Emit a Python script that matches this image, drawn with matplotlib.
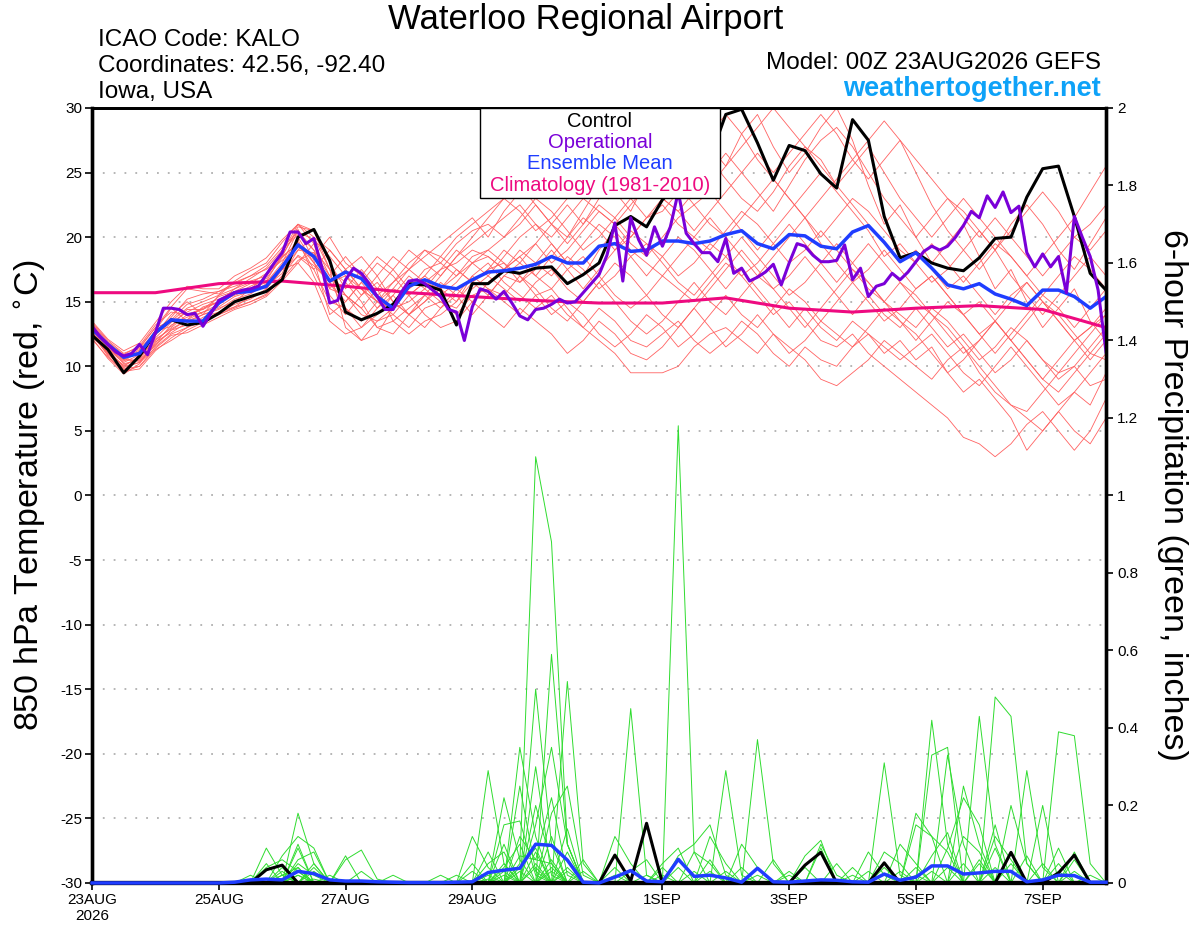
import numpy as np
import matplotlib
matplotlib.use("Agg")
import matplotlib.pyplot as plt
from matplotlib.patches import Rectangle

plt.rcParams['font.family'] = ['Liberation Sans', 'DejaVu Sans']
plt.rcParams['axes.unicode_minus'] = False

# time axis: hours after 00Z 23AUG2026
hours = np.arange(0, 385, 6)
hours_op = np.arange(0, 385, 3)

# control run 850 hPa temperature (C), 6-hourly
control_t = [12.4, 11.3, 9.5, 10.8, 12.6, 13.6, 13.2, 13.4, 14.1, 15.0, 15.4, 15.8, 16.7,
             20.0, 20.6, 18.2, 14.2, 13.6, 14.1, 14.8, 16.4, 16.3, 15.9, 13.2, 16.4, 16.4,
             17.4, 17.2, 17.6, 17.7, 16.4, 17.1, 18.0, 20.9, 21.6, 20.8, 22.9, 24.0, 25.0,
             26.1, 29.5, 29.9, 27.3, 24.4, 27.1, 26.7, 24.9, 23.8, 29.1, 27.5, 21.6, 18.4, 18.8,
             18.0, 17.6, 17.4, 18.4, 19.9, 20.0, 23.1, 25.3, 25.5, 21.6, 17.2, 15.9]

# ensemble mean
mean_t = [12.9, 11.7, 10.7, 11.0, 12.6, 13.6, 13.5, 13.5, 14.9, 15.7, 15.8, 16.2, 17.7,
          19.4, 18.5, 16.6, 17.3, 16.8, 15.4, 14.5, 16.2, 16.7, 16.2, 16.0, 16.7, 17.3,
          17.4, 17.6, 17.9, 18.5, 18.0, 18.0, 19.3, 19.5, 18.9, 19.0, 19.7, 19.7, 19.5,
          19.7, 20.2, 20.5, 19.5, 19.1, 20.2, 20.1, 19.3, 19.1, 20.4, 20.9, 19.6, 18.1, 18.8,
          17.6, 16.3, 16.0, 16.4, 15.6, 15.2, 14.7, 15.9, 15.9, 15.4, 14.5, 15.4]

# operational run, 3-hourly
oper_t = [13.1, 12.3, 11.7, 11.1, 10.8, 11.0, 11.7, 10.9,
          12.6, 14.5, 14.5, 14.4, 14.0, 14.1, 13.1, 14.1,
          15.1, 15.4, 15.7, 15.9, 16.0, 16.2, 17.1, 18.0,
          18.8, 20.4, 20.4, 19.5, 19.9, 17.7, 14.9, 15.1,
          16.7, 17.6, 17.2, 16.4, 15.4, 14.4, 14.4, 15.7,
          16.6, 16.7, 16.4, 15.9, 15.4, 14.4, 14.2, 12.0,
          14.6, 16.0, 15.8, 15.2, 15.8, 14.9, 13.9, 13.6,
          14.4, 14.5, 14.8, 15.2, 14.9, 15.0, 15.7, 16.4,
          17.1, 18.6, 21.1, 16.6, 21.5, 19.8, 18.6, 20.8,
          19.3, 20.8, 23.5, 20.3, 19.5, 18.8, 18.8, 18.1,
          19.9, 17.2, 17.6, 16.6, 16.9, 17.3, 17.9, 16.3,
          18.0, 19.5, 19.3, 18.6, 18.1, 18.1, 18.2, 19.4,
          16.7, 17.6, 15.4, 16.2, 16.4, 17.2, 16.7, 17.3,
          18.1, 18.9, 19.3, 19.0, 19.3, 20.0, 20.9, 22.0,
          21.5, 23.2, 22.3, 23.5, 21.9, 22.4, 18.8, 17.7,
          18.7, 17.7, 18.5, 15.7, 21.6, 20.0, 18.5, 15.9,
          11.1]

# climatology (1981-2010), daily
clim_hours = np.arange(0, 385, 24)
clim_t = [15.7, 15.7, 16.4, 16.6, 16.2, 15.7, 15.4, 15.1, 14.9, 14.9, 15.3, 14.5,
          14.2, 14.5, 14.7, 14.4, 13.0]

# ensemble members 850 hPa temperature, 6-hourly
members_t = [
    [13.0, 11.5, 10.2, 10.5, 12.0, 13.0, 14.0, 14.5, 15.0, 15.5, 16.0, 16.5, 18.0,
     20.5, 19.0, 16.0, 15.5, 14.0, 13.5, 14.5, 16.0, 17.5, 18.0, 17.0, 18.5, 19.0,
     20.0, 21.0, 22.5, 21.0, 20.0, 22.0, 24.0, 23.5, 22.0, 24.5, 26.0, 27.5, 29.0,
     27.0, 25.5, 28.0, 29.5, 27.0, 25.0, 26.5, 28.5, 30.0, 27.5, 24.0, 21.0, 22.5,
     20.0, 18.0, 19.5, 21.0, 18.5, 16.0, 17.5, 15.0, 13.0, 14.5, 16.0, 13.5, 12.0],
    [12.5, 11.0, 9.8, 10.0, 11.5, 12.5, 13.0, 13.5, 14.0, 14.5, 15.0, 15.5, 17.0,
     19.0, 20.0, 17.5, 13.0, 12.0, 13.5, 14.0, 13.0, 14.5, 15.0, 14.0, 15.5, 16.0,
     15.0, 14.0, 15.5, 16.0, 14.5, 13.0, 12.0, 11.0, 9.5, 9.5, 9.5, 10.0, 11.5,
     12.5, 13.0, 12.0, 11.0, 12.5, 11.5, 10.5, 9.0, 8.5, 9.5, 10.5, 12.0, 11.0,
     10.0, 9.0, 10.5, 11.5, 9.5, 8.0, 7.0, 6.5, 8.0, 9.5, 10.0, 8.5, 9.0],
    [12.8, 11.2, 10.0, 10.8, 12.5, 14.0, 15.0, 14.0, 14.5, 15.0, 16.0, 17.0, 18.5,
     19.5, 18.0, 16.5, 17.0, 16.0, 15.0, 14.0, 15.5, 16.5, 16.0, 17.0, 18.0, 18.5,
     17.5, 18.5, 17.0, 16.0, 17.5, 18.5, 17.0, 15.5, 14.5, 15.5, 17.0, 16.0, 15.0,
     16.5, 18.0, 17.0, 15.5, 14.0, 15.0, 13.5, 12.0, 11.5, 12.5, 11.0, 10.0, 9.0,
     8.0, 7.0, 6.0, 4.5, 4.0, 3.0, 4.0, 5.5, 6.5, 5.0, 3.5, 5.0, 7.5],
    [13.2, 11.8, 10.8, 11.0, 12.8, 14.5, 13.5, 14.0, 15.5, 16.0, 16.5, 16.0, 17.5,
     18.5, 17.5, 19.0, 17.5, 16.0, 14.5, 15.5, 17.0, 16.0, 17.5, 19.0, 18.0, 17.0,
     18.5, 20.0, 21.0, 19.5, 18.0, 19.5, 21.0, 20.0, 18.5, 17.0, 18.5, 20.0, 19.0,
     17.5, 16.0, 17.5, 16.0, 14.5, 13.0, 14.5, 13.0, 12.0, 13.5, 12.5, 11.0, 12.0,
     10.5, 11.5, 9.5, 8.0, 9.0, 7.5, 6.0, 3.5, 5.0, 6.5, 8.0, 7.0, 9.5],
    [12.6, 10.8, 9.6, 9.8, 11.2, 12.2, 13.0, 13.8, 14.2, 14.8, 15.2, 16.0, 17.5,
     18.0, 19.5, 15.5, 14.0, 15.5, 16.5, 15.0, 14.0, 15.0, 16.5, 15.5, 14.0, 15.5,
     17.0, 16.5, 18.0, 19.5, 18.0, 17.0, 19.0, 20.5, 19.0, 18.0, 17.0, 18.5, 20.0,
     21.5, 20.0, 18.5, 17.0, 18.5, 20.0, 21.5, 19.5, 18.0, 16.5, 17.5, 19.0, 17.5,
     16.0, 17.0, 15.5, 14.0, 15.0, 13.5, 12.0, 13.5, 15.0, 14.0, 12.5, 11.0, 10.5],
    [13.4, 12.0, 11.0, 11.5, 13.0, 13.5, 14.5, 15.0, 15.5, 16.5, 17.0, 17.5, 18.5,
     20.8, 20.5, 18.0, 16.0, 17.5, 16.0, 13.5, 12.5, 13.5, 14.0, 15.0, 16.5, 17.5,
     19.0, 18.0, 19.5, 21.0, 22.5, 21.0, 23.0, 24.5, 23.0, 21.5, 22.0, 23.5, 25.0,
     26.0, 24.5, 23.0, 22.0, 23.5, 25.5, 27.0, 26.0, 24.0, 22.5, 21.0, 19.5, 18.0,
     19.0, 17.5, 16.0, 17.0, 15.5, 14.0, 15.5, 16.5, 15.0, 13.5, 12.0, 13.0, 14.0],
    [12.2, 10.6, 9.4, 10.2, 11.8, 13.2, 13.8, 14.2, 14.6, 15.4, 15.8, 16.2, 17.2,
     19.8, 17.0, 14.5, 13.5, 12.0, 12.5, 14.5, 15.0, 16.0, 15.0, 14.5, 16.0, 17.0,
     16.0, 15.0, 16.5, 17.5, 16.0, 15.0, 16.5, 18.0, 17.0, 15.5, 14.0, 13.0, 14.5,
     16.0, 17.5, 19.0, 17.5, 16.0, 17.0, 18.5, 17.0, 15.5, 14.0, 15.5, 14.0, 13.0,
     14.5, 13.0, 11.5, 12.5, 11.0, 9.5, 10.5, 12.0, 10.5, 9.0, 10.0, 11.5, 13.0],
    [12.9, 11.4, 10.4, 11.2, 12.6, 13.6, 14.8, 15.2, 15.8, 16.2, 16.6, 17.0, 18.8,
     21.0, 19.5, 17.0, 18.5, 17.0, 15.5, 16.5, 18.0, 19.0, 18.0, 19.5, 20.5, 21.0,
     20.0, 21.5, 23.0, 22.0, 20.5, 19.0, 20.0, 21.5, 23.0, 24.5, 23.0, 22.0, 23.5,
     25.0, 26.5, 25.0, 23.5, 22.0, 24.0, 26.0, 27.5, 28.5, 27.0, 25.0, 23.0, 21.5,
     20.0, 21.5, 23.0, 22.0, 20.5, 19.0, 20.5, 22.0, 23.5, 22.0, 20.0, 21.0, 22.5],
    [13.1, 11.6, 10.6, 10.4, 11.6, 12.8, 13.2, 13.6, 14.0, 14.6, 15.0, 15.6, 16.8,
     18.2, 18.8, 16.0, 17.5, 18.5, 17.0, 15.0, 14.0, 15.0, 16.0, 17.5, 16.5, 15.5,
     17.0, 18.0, 17.0, 18.5, 20.0, 21.5, 20.5, 19.0, 20.0, 21.5, 22.5, 21.0, 20.0,
     19.0, 20.5, 22.0, 21.0, 19.5, 18.0, 19.0, 20.5, 19.0, 17.5, 16.0, 15.0, 16.5,
     15.0, 14.0, 12.5, 11.0, 12.0, 13.5, 12.0, 10.5, 9.0, 8.0, 9.5, 11.0, 12.5],
    [12.7, 11.0, 10.1, 10.6, 12.2, 13.4, 14.2, 14.8, 15.2, 15.8, 16.4, 17.2, 18.2,
     19.2, 18.5, 20.0, 18.0, 17.0, 18.5, 17.5, 16.0, 17.0, 18.5, 17.5, 16.5, 17.5,
     18.0, 17.0, 15.5, 14.0, 15.0, 14.0, 12.5, 11.5, 12.5, 14.0, 13.0, 11.5, 12.5,
     14.0, 15.5, 14.0, 13.0, 14.5, 16.0, 15.0, 13.5, 12.5, 11.5, 13.0, 14.5, 13.5,
     12.0, 13.5, 15.0, 14.0, 12.5, 11.0, 12.5, 14.0, 15.5, 14.5, 13.0, 14.5, 16.0],
    [13.3, 11.9, 10.9, 11.6, 13.2, 14.2, 14.0, 14.4, 15.0, 16.0, 16.8, 17.6, 19.0,
     20.2, 19.0, 17.5, 16.5, 15.0, 13.0, 12.5, 14.0, 15.5, 17.0, 18.5, 19.5, 20.5,
     21.5, 22.5, 21.0, 20.0, 21.5, 23.0, 22.0, 21.0, 22.5, 24.0, 25.0, 24.0, 22.5,
     21.0, 20.0, 21.5, 23.0, 24.5, 23.0, 21.5, 20.0, 21.5, 23.0, 22.0, 20.5, 19.0,
     18.0, 19.5, 18.0, 16.5, 18.0, 19.5, 18.5, 17.0, 15.5, 17.0, 18.5, 17.5, 16.0],
    [12.4, 10.9, 9.9, 10.3, 11.9, 12.6, 13.4, 14.0, 14.4, 15.2, 15.6, 16.4, 17.8,
     20.0, 18.0, 16.5, 15.0, 16.5, 15.0, 14.5, 16.0, 17.0, 16.0, 15.0, 17.0, 18.0,
     16.5, 15.5, 14.5, 15.5, 14.0, 13.0, 14.5, 13.5, 12.0, 11.5, 12.5, 13.5, 12.0,
     11.0, 12.0, 13.5, 12.5, 11.0, 10.0, 11.5, 10.5, 10.0, 11.5, 12.5, 11.5, 10.5,
     11.5, 12.5, 11.0, 9.5, 8.5, 10.0, 11.5, 10.0, 8.5, 7.0, 8.0, 9.5, 11.0],
    [12.6, 11.3, 10.3, 10.9, 12.4, 13.8, 15.2, 15.6, 15.8, 16.4, 17.0, 17.8, 19.2,
     20.4, 19.8, 18.5, 17.0, 15.5, 17.0, 18.5, 17.5, 18.5, 19.5, 20.5, 21.5, 20.0,
     22.0, 23.5, 24.5, 23.0, 25.0, 26.5, 25.0, 23.5, 25.0, 26.5, 28.0, 27.0, 25.5,
     24.0, 25.5, 27.0, 28.5, 30.0, 28.5, 27.0, 25.5, 24.0, 25.5, 27.0, 25.0, 23.0,
     21.5, 20.0, 21.5, 23.0, 21.5, 20.0, 18.5, 17.0, 18.5, 20.0, 21.5, 23.5, 25.5],
    [12.3, 11.1, 9.7, 10.7, 12.1, 12.9, 13.6, 14.6, 15.0, 15.6, 16.2, 16.8, 18.4,
     19.6, 17.5, 15.0, 14.5, 13.0, 14.0, 15.5, 14.0, 13.0, 14.5, 16.0, 15.0, 16.5,
     17.5, 19.0, 18.0, 17.0, 18.5, 17.5, 16.0, 17.0, 18.5, 19.5, 18.5, 17.0, 18.0,
     19.5, 18.5, 17.0, 18.0, 19.5, 21.0, 19.5, 18.0, 16.5, 18.0, 19.5, 18.0, 16.5,
     15.5, 14.0, 13.0, 11.5, 10.0, 8.5, 7.0, 6.0, 5.0, 6.5, 5.0, 4.0, 6.0],
    [13.0, 11.7, 10.5, 11.3, 12.7, 13.1, 14.4, 14.4, 15.4, 15.8, 16.0, 16.6, 18.6,
     20.6, 18.2, 14.0, 15.0, 16.5, 18.0, 17.0, 15.5, 16.5, 17.5, 18.0, 19.0, 18.5,
     17.5, 18.5, 19.5, 18.0, 19.0, 20.5, 22.0, 21.0, 19.5, 18.5, 20.0, 21.5, 22.5,
     23.5, 22.0, 20.5, 19.0, 20.5, 22.0, 23.5, 25.0, 23.5, 22.0, 20.5, 18.5, 19.5,
     18.0, 16.5, 17.5, 19.0, 20.5, 19.0, 17.0, 15.5, 14.0, 15.5, 17.0, 18.5, 17.0],
    [12.5, 11.2, 10.0, 10.3, 11.4, 12.4, 12.6, 13.2, 13.8, 14.4, 14.8, 15.4, 16.6,
     18.0, 16.5, 13.5, 12.5, 13.0, 14.5, 16.0, 15.5, 14.0, 13.0, 13.5, 15.0, 14.0,
     13.0, 14.5, 13.5, 12.5, 11.0, 12.0, 13.5, 12.5, 11.0, 10.5, 11.5, 13.0, 14.5,
     13.0, 11.5, 12.5, 14.0, 12.5, 11.0, 12.0, 13.5, 15.0, 16.5, 15.0, 13.5, 14.5,
     16.0, 17.0, 15.5, 14.0, 12.5, 13.5, 15.0, 16.5, 15.0, 13.5, 12.0, 10.5, 12.0],
    [12.9, 11.5, 10.7, 11.4, 13.0, 14.6, 16.0, 15.8, 15.6, 16.6, 17.4, 18.0, 19.6,
     21.0, 20.0, 19.0, 17.5, 16.0, 15.0, 16.0, 17.5, 19.0, 18.5, 20.0, 21.0, 22.0,
     23.0, 22.0, 20.5, 21.5, 23.0, 24.0, 26.0, 27.5, 26.0, 24.5, 23.0, 24.5, 26.0,
     28.0, 29.5, 28.0, 26.0, 24.5, 23.0, 21.5, 23.0, 24.5, 26.0, 27.5, 29.0, 27.5,
     26.0, 24.5, 23.0, 21.5, 20.0, 21.5, 20.0, 18.5, 17.0, 18.5, 20.0, 19.0, 20.5],
    [12.1, 10.7, 9.6, 10.0, 11.3, 12.0, 12.8, 13.4, 14.2, 14.6, 15.4, 15.8, 17.0,
     18.6, 17.8, 16.5, 14.5, 13.5, 15.0, 16.5, 17.5, 16.5, 15.5, 16.5, 18.0, 19.0,
     18.0, 16.5, 17.5, 19.0, 17.5, 16.0, 17.5, 19.0, 20.5, 19.5, 18.0, 16.5, 15.5,
     17.0, 18.5, 20.0, 18.5, 17.0, 15.5, 16.5, 18.0, 19.5, 18.0, 16.5, 15.0, 14.0,
     13.0, 14.5, 13.5, 12.0, 10.5, 11.5, 13.0, 12.0, 10.5, 9.5, 11.0, 12.5, 14.0],
    [13.5, 12.1, 11.2, 11.8, 13.4, 15.0, 16.2, 16.0, 16.0, 17.0, 17.6, 18.4, 19.8,
     21.0, 20.5, 17.5, 15.5, 14.5, 16.0, 17.5, 19.0, 18.0, 17.0, 18.5, 20.0, 21.5,
     23.0, 24.0, 22.5, 21.0, 19.5, 21.0, 22.5, 21.5, 20.0, 21.5, 23.0, 22.0, 20.5,
     22.0, 23.5, 25.0, 26.5, 25.0, 26.5, 28.0, 29.5, 28.0, 26.0, 24.5, 26.0, 27.5,
     25.0, 22.5, 20.5, 19.0, 17.5, 19.0, 21.0, 22.5, 21.0, 19.0, 17.5, 19.5, 21.5],
    [12.8, 11.4, 10.5, 10.4, 11.7, 12.8, 13.6, 14.2, 14.8, 15.6, 16.0, 16.6, 17.6,
     19.0, 18.8, 17.0, 15.5, 14.5, 13.0, 13.5, 14.5, 15.5, 14.5, 15.5, 17.0, 16.0,
     15.5, 17.0, 16.0, 14.5, 13.5, 15.0, 16.5, 15.0, 13.5, 12.5, 13.5, 15.0, 16.5,
     15.0, 14.0, 15.5, 17.0, 16.0, 14.5, 13.0, 14.5, 16.0, 17.5, 16.5, 15.0, 13.5,
     12.5, 11.0, 9.5, 10.5, 12.0, 13.5, 12.0, 10.5, 9.0, 10.5, 12.0, 13.0, 14.5],
]

# 6-hour precipitation (inches): control and ensemble mean, 6-hourly
control_p = [0, 0, 0, 0, 0, 0, 0, 0, 0, 0, 0, 0.034, 0.046,
             0, 0, 0, 0, 0, 0, 0, 0, 0, 0, 0, 0, 0,
             0, 0, 0, 0, 0, 0, 0, 0.072, 0.005, 0.154, 0, 0, 0,
             0, 0, 0, 0, 0, 0, 0.046, 0.079, 0, 0, 0, 0.052, 0,
             0, 0, 0, 0, 0, 0, 0.079, 0, 0, 0.026, 0.072, 0, 0]
mean_p = [0, 0, 0, 0, 0, 0, 0, 0, 0, 0.002, 0.008, 0.01, 0.008,
          0.03, 0.024, 0.008, 0.005, 0.005, 0.003, 0.002, 0.001, 0.001, 0.001, 0.002, 0.003, 0.027,
          0.033, 0.038, 0.1, 0.097, 0.059, 0.002, 0, 0.015, 0.032, 0.005, 0.003, 0.061, 0.017,
          0.02, 0.013, 0.002, 0.038, 0.003, 0.002, 0.005, 0.008, 0.007, 0.003, 0.002, 0.023, 0.007,
          0.015, 0.044, 0.044, 0.023, 0.026, 0.03, 0.03, 0.003, 0.008, 0.02, 0.019, 0.002, 0.002]

# ensemble member precipitation: {6-hour step: inches}, zero elsewhere
members_p = [
    {11: .09, 12: .02, 13: .04, 27: .05, 28: 1.10, 29: .88, 30: .10, 33: .02, 42: .37, 43: .05, 53: .42, 54: .10, 61: .05},
    {13: .18, 14: .05, 26: .10, 28: .50, 29: .10, 37: 1.18, 38: .08, 50: .31, 51: .02, 57: .48, 58: .43, 59: .05},
    {12: .07, 13: .12, 14: .09, 25: .29, 26: .05, 29: .59, 30: .10, 34: .45, 35: .02, 40: .29, 41: .02, 56: .43, 57: .10},
    {11: .05, 13: .09, 16: .06, 17: .085, 18: .01, 27: .35, 28: .12, 30: .52, 31: .05, 39: .12, 40: .05, 54: .33, 55: .10, 61: .39, 62: .38, 63: .05},
    {13: .06, 14: .08, 24: .12, 25: .04, 28: .20, 29: .05, 36: .05, 37: .09, 46: .10, 47: .02, 55: .25, 56: .10, 60: .20},
    {12: .03, 14: .05, 26: .15, 27: .16, 28: .02, 30: .14, 38: .08, 39: .05, 52: .15, 53: .12, 54: .08},
    {13: .10, 15: .02, 19: .02, 24: .05, 26: .22, 27: .06, 29: .12, 33: .12, 34: .05, 45: .07, 46: .11, 49: .08, 50: .02, 53: .33, 54: .35},
    {10: .02, 12: .04, 16: .07, 25: .08, 27: .25, 28: .03, 31: .03, 41: .10, 42: .04, 52: .18, 53: .12, 58: .20, 59: .05},
    {13: .05, 14: .02, 26: .05, 28: .15, 29: .35, 30: .10, 37: .07, 38: .10, 39: .15, 40: .02, 55: .12, 56: .08, 61: .09},
    {11: .04, 12: .06, 13: .03, 27: .12, 28: .06, 29: .22, 30: .02, 34: .03, 35: .06, 44: .03, 51: .10, 52: .05, 57: .15, 62: .08},
    {14: .04, 17: .03, 23: .02, 25: .05, 26: .08, 28: .30, 29: .02, 36: .04, 43: .06, 48: .04, 54: .09, 55: .22, 56: .15},
    {13: .03, 24: .03, 26: .04, 27: .10, 29: .18, 30: .25, 31: .02, 37: .04, 46: .09, 50: .08, 51: .05, 57: .12, 58: .06},
    {12: .02, 25: .02, 27: .07, 28: .06, 29: .05, 33: .04, 39: .06, 45: .04, 53: .07, 54: .13, 59: .29, 60: .04},
    {26: .03, 28: .04, 30: .08, 38: .03, 47: .05, 52: .04, 56: .06, 62: .06},
    {13: .02, 27: .03, 29: .06, 40: .03, 49: .03, 55: .05, 60: .05},
    {11: .01, 14: .03, 22: .02, 28: .08, 35: .02, 42: .02, 50: .04, 58: .05, 63: .02},
    {13: .04, 26: .02, 29: .04, 31: .06, 44: .02, 53: .03, 57: .09},
    {12: .02, 27: .04, 28: .09, 30: .03, 41: .04, 51: .03, 56: .05, 61: .03},
    {14: .01, 25: .01, 29: .03, 36: .02, 48: .02, 54: .04, 59: .07},
    {13: .02, 28: .05, 30: .04, 39: .03, 52: .02, 57: .04, 62: .03},
]

tick_hours = [0, 48, 96, 144, 216, 264, 312, 360]
tick_labels = ["23AUG\n2026", "25AUG", "27AUG", "29AUG", "1SEP", "3SEP", "5SEP", "7SEP"]

RED = "#ff6262"
GREEN = "#2fdc2f"
BLUE = "#1f3dff"
PURPLE = "#7a00d8"
PINK = "#ee0a80"

fig = plt.figure(figsize=(12, 9.27), dpi=100)
ax = fig.add_axes([0.0767, 0.0475, 0.845, 0.836])
ax2 = ax.twinx()

for m in members_t:
    ax.plot(hours, m, color=RED, lw=0.6, zorder=2)
ax.plot(clim_hours, clim_t, color=PINK, lw=2.2, zorder=3)
ax.plot(hours, control_t, color="black", lw=2.2, zorder=4)
ax.plot(hours, mean_t, color=BLUE, lw=2.5, zorder=5)
ax.plot(hours_op, oper_t, color=PURPLE, lw=2.2, zorder=6)

for d in members_p:
    p = np.zeros(len(hours))
    for k, v in d.items():
        p[k] = v
    ax2.plot(hours, p, color=GREEN, lw=0.7, zorder=2)
ax2.plot(hours, control_p, color="black", lw=2.2, zorder=4, clip_on=False)
ax2.plot(hours, mean_p, color=BLUE, lw=2.5, zorder=5, clip_on=False)

ax.set_xlim(0, 384)
ax.set_ylim(-30, 30)
ax2.set_ylim(0, 2)
ax.set_yticks(range(-30, 31, 5))
ax2.set_yticks(np.arange(0, 2.01, 0.2))
ax2.set_yticklabels(["0", "0.2", "0.4", "0.6", "0.8", "1", "1.2", "1.4", "1.6", "1.8", "2"])
ax.set_xticks(tick_hours)
ax.set_xticklabels(tick_labels)

ax.yaxis.grid(True, color="#b0b0b0", linestyle=(0, (1, 5)), lw=1.3)
ax.set_axisbelow(True)
ax.tick_params(axis="both", direction="out", length=5, width=1.2, labelsize=11, pad=2)
ax2.tick_params(axis="y", direction="out", length=5, width=1.2, labelsize=11, pad=3)

for a in (ax, ax2):
    a.spines["left"].set_linewidth(2.4)
    a.spines["right"].set_linewidth(2.4)
    a.spines["bottom"].set_linewidth(3)
    a.spines["top"].set_linewidth(2)

# legend box
ax2.add_patch(Rectangle((0.3826, 0.884), 0.2367, 0.116, transform=ax2.transAxes,
                        facecolor="white", edgecolor="black", lw=1, zorder=10, clip_on=False))
leg_items = [("Control", "black"), ("Operational", PURPLE),
             ("Ensemble Mean", BLUE), ("Climatology (1981-2010)", PINK)]
for i, (txt, col) in enumerate(leg_items):
    ax2.text(0.5009, 0.983 - i * 0.0275, txt, color=col, fontsize=14.5, ha="center", va="center",
             transform=ax2.transAxes, zorder=11)

fig.text(0.488, 0.979, "Waterloo Regional Airport", fontsize=25, ha="center", va="center")
fig.text(0.0817, 0.957, "ICAO Code: KALO", fontsize=17.5, ha="left", va="center")
fig.text(0.0817, 0.929, "Coordinates: 42.56, -92.40", fontsize=17.5, ha="left", va="center")
fig.text(0.0817, 0.901, "Iowa, USA", fontsize=17.5, ha="left", va="center")
fig.text(0.9175, 0.932, "Model: 00Z 23AUG2026 GEFS", fontsize=17.5, ha="right", va="center")
fig.text(0.9175, 0.904, "weathertogether.net", fontsize=19.5, ha="right", va="center",
         color="#0ea2f8", fontweight="bold")
fig.text(0.026, 0.466, "850 hPa Temperature (red, $^{\\circ}$C)", fontsize=24.5, rotation=90,
         ha="center", va="center")
fig.text(0.977, 0.466, "6-hour Precipitation (green, inches)", fontsize=24.5, rotation=270,
         ha="center", va="center")

fig.savefig("out.png", dpi=100)
